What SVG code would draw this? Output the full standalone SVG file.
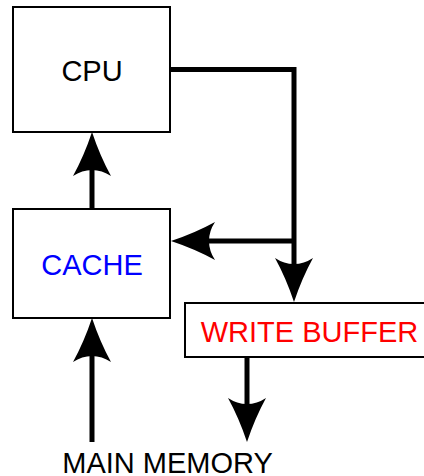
<svg xmlns="http://www.w3.org/2000/svg" width="424" height="476" viewBox="0 0 424 476">
<style>
.box{fill:#fff;stroke:#000;stroke-width:2}
.lbl{font-family:"Liberation Sans",Arial,sans-serif;font-size:29px;text-anchor:middle}
.conn{fill:none;stroke:#000;stroke-width:5;stroke-linejoin:miter}
</style>
<defs>
<marker id="ah" markerUnits="userSpaceOnUse" viewBox="-10 -22 52 44" markerWidth="52" markerHeight="44" refX="0" refY="0" orient="auto" overflow="visible">
<path d="M38,0 Q14,-8 -6,-19 Q0,-10 0,0 Q0,10 -6,19 Q14,8 38,0 Z" fill="#000"/>
</marker>
</defs>
<rect width="424" height="476" fill="#fff"/>
<g id="cpu">
<rect class="box" x="13" y="7" width="157" height="125"/>
<text class="lbl" x="92" y="81" fill="#000">CPU</text>
</g>
<g id="cache">
<rect class="box" x="13" y="209" width="157" height="109"/>
<text class="lbl" x="92" y="275" fill="#0000ff">CACHE</text>
</g>
<g id="write-buffer">
<rect class="box" x="185" y="303" width="245" height="54"/>
<text class="lbl" x="309.5" y="342" fill="#ff0000">WRITE BUFFER</text>
</g>
<g id="main-memory">
<text class="lbl" x="167.5" y="473" fill="#000">MAIN MEMORY</text>
</g>
<g id="connectors">
<path class="conn" d="M170,69.5 H294 V264" marker-end="url(#ah)"/>
<path class="conn" d="M294,241 H209" marker-end="url(#ah)"/>
<path class="conn" d="M92,209 V170" marker-end="url(#ah)"/>
<path class="conn" d="M92,442 V356" marker-end="url(#ah)"/>
<path class="conn" d="M247,357 V404" marker-end="url(#ah)"/>
</g>
</svg>
